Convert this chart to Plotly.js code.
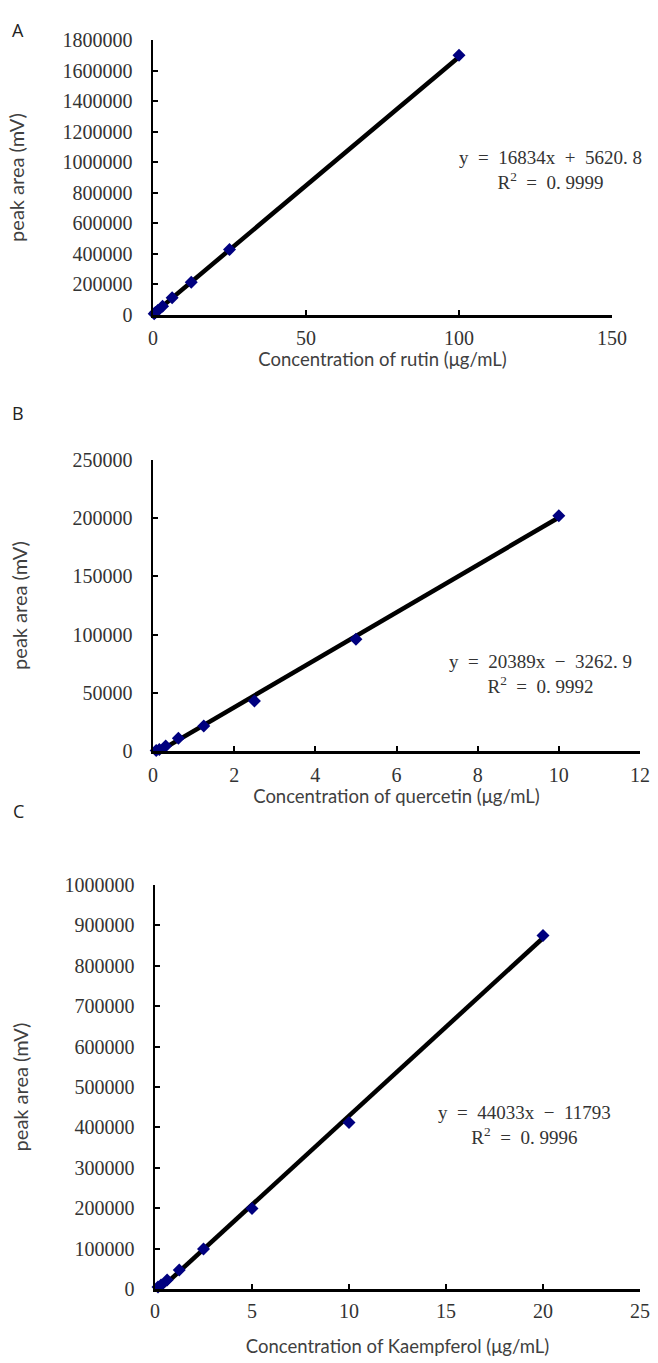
<!DOCTYPE html>
<html>
<head>
<meta charset="utf-8">
<script src="https://cdn.plot.ly/plotly-3.0.1.min.js"></script>
<style>html,body{margin:0;padding:0;background:#fff;}#chart{width:658px;height:1363px;}</style>
</head>
<body>
<div id="chart"></div>
<script>
// Panel A: rutin
const rutinConc = [0.39, 0.78, 1.5625, 3.125, 6.25, 12.5, 25, 100];
const rutinArea = [8000, 16000, 30000, 57000, 113000, 214000, 428000, 1700000];
const rutinFit = {slope: "16834", intercept: "5620. 8", sign: "+", r2: "0. 9999", a: 16834, b: 5620.8, xStart: 0, xEnd: 100};
// Panel B: quercetin
const quercConc = [0.078, 0.156, 0.3125, 0.625, 1.25, 2.5, 5, 10];
const quercArea = [500, 1200, 4300, 11000, 21500, 43000, 96000, 202000];
const quercFit = {slope: "20389", intercept: "3262. 9", sign: "−", r2: "0. 9992", a: 20389, b: -3262.9, xStart: 0.1, xEnd: 10};
// Panel C: kaempferol
const kaempConc = [0.156, 0.3125, 0.625, 1.25, 2.5, 5, 10, 20];
const kaempArea = [5000, 10000, 22000, 47000, 99000, 199000, 412000, 875000];
const kaempFit = {slope: "44033", intercept: "11793", sign: "−", r2: "0. 9996", a: 44033, b: -11793, xStart: 0.27, xEnd: 20};

const W = 658, H = 1363;
const px = (a, b) => [a / W, b / W];
const py = (top, bottom) => [1 - bottom / H, 1 - top / H];

const markerStyle = {symbol: 'diamond', size: 10, color: '#00007f'};
const lineStyle = {color: '#000', width: 4.5};

function fitLine(fit) {
  const xs = [fit.xStart, fit.xEnd];
  return {xs, ys: xs.map(x => fit.a * x + fit.b)};
}

const panels = [
  {conc: rutinConc, area: rutinArea, fit: rutinFit, ax: ''},
  {conc: quercConc, area: quercArea, fit: quercFit, ax: '2'},
  {conc: kaempConc, area: kaempArea, fit: kaempFit, ax: '3'}
];
const traces = [];
panels.forEach(p => {
  const l = fitLine(p.fit);
  traces.push({x: l.xs, y: l.ys, mode: 'lines', line: lineStyle, xaxis: 'x' + p.ax, yaxis: 'y' + p.ax, hoverinfo: 'skip', cliponaxis: false});
  traces.push({x: p.conc, y: p.area, mode: 'markers', marker: markerStyle, xaxis: 'x' + p.ax, yaxis: 'y' + p.ax, cliponaxis: false});
});

const tickFont = {family: '"Liberation Serif", "DejaVu Serif", serif', size: 20, color: '#333'};
const titleFont = {family: 'Lato, "Open Sans", sans-serif', size: 18.5, color: '#404040'};
const yTitleFont = {family: 'Lato, "Open Sans", sans-serif', size: 20, color: '#404040'};

function xAxis(domain, range, dtick, title, anchor, labelGap, standoff) {
  return {domain, range, dtick, tick0: 0, anchor, showgrid: false, zeroline: false,
    showline: true, linecolor: '#000', linewidth: 2.5, ticks: 'inside', ticklen: 5, tickwidth: 2, tickcolor: '#000',
    tickfont: tickFont, ticklabelstandoff: labelGap, title: {text: title, font: titleFont, standoff}};
}
function yAxis(domain, range, dtick, anchor, standoff) {
  return {domain, range, dtick, tick0: 0, anchor, showgrid: false, zeroline: false,
    showline: true, linecolor: '#000', linewidth: 2.5, ticks: 'inside', ticklen: 5, tickwidth: 2, tickcolor: '#000',
    tickfont: tickFont, tickformat: 'd', ticklabelstandoff: 14, title: {text: 'peak area (mV)', font: yTitleFont, standoff}};
}

const eqFont = {family: '"Liberation Serif", "DejaVu Serif", serif', size: 19, color: '#333'};
function eqText(fit) {
  return 'y  =  ' + fit.slope + 'x  ' + fit.sign + '  ' + fit.intercept + '<br>R<sup>2</sup>  =  ' + fit.r2;
}

const letterFont = {family: '"Open Sans", Lato, sans-serif', size: 18, color: '#222'};
const layout = {
  width: W, height: H, margin: {l: 0, r: 0, t: 0, b: 0},
  paper_bgcolor: '#fff', plot_bgcolor: '#fff', showlegend: false,
  xaxis: xAxis(px(153, 612), [0, 150], 50, 'Concentration of rutin (μg/mL)', 'y', 3, 6),
  yaxis: yAxis(py(40, 315), [0, 1800000], 200000, 'x', 33),
  xaxis2: xAxis(px(153, 640), [0, 12], 2, 'Concentration of quercetin (μg/mL)', 'y2', 4, 5),
  yaxis2: yAxis(py(460, 751), [0, 250000], 50000, 'x2', 40),
  xaxis3: xAxis(px(155, 640), [0, 25], 5, 'Concentration of Kaempferol (μg/mL)', 'y3', 2, 20),
  yaxis3: yAxis(py(885, 1289), [0, 1000000], 100000, 'x3', 31),
  annotations: [
    {text: 'A', x: 18 / W, y: 1 - 30 / H, xref: 'paper', yref: 'paper', showarrow: false, xanchor: 'center', yanchor: 'middle', font: letterFont},
    {text: 'B', x: 18 / W, y: 1 - 413 / H, xref: 'paper', yref: 'paper', showarrow: false, xanchor: 'center', yanchor: 'middle', font: letterFont},
    {text: 'C', x: 18 / W, y: 1 - 811 / H, xref: 'paper', yref: 'paper', showarrow: false, xanchor: 'center', yanchor: 'middle', font: letterFont},
    {text: eqText(rutinFit), x: 550 / W, y: 1 - 170 / H, xref: 'paper', yref: 'paper', showarrow: false, xanchor: 'center', yanchor: 'middle', align: 'center', font: eqFont},
    {text: eqText(quercFit), x: 540 / W, y: 1 - 674 / H, xref: 'paper', yref: 'paper', showarrow: false, xanchor: 'center', yanchor: 'middle', align: 'center', font: eqFont},
    {text: eqText(kaempFit), x: 524 / W, y: 1 - 1125 / H, xref: 'paper', yref: 'paper', showarrow: false, xanchor: 'center', yanchor: 'middle', align: 'center', font: eqFont}
  ]
};

Plotly.newPlot('chart', traces, layout, {displayModeBar: false, staticPlot: true});
</script>
</body>
</html>
